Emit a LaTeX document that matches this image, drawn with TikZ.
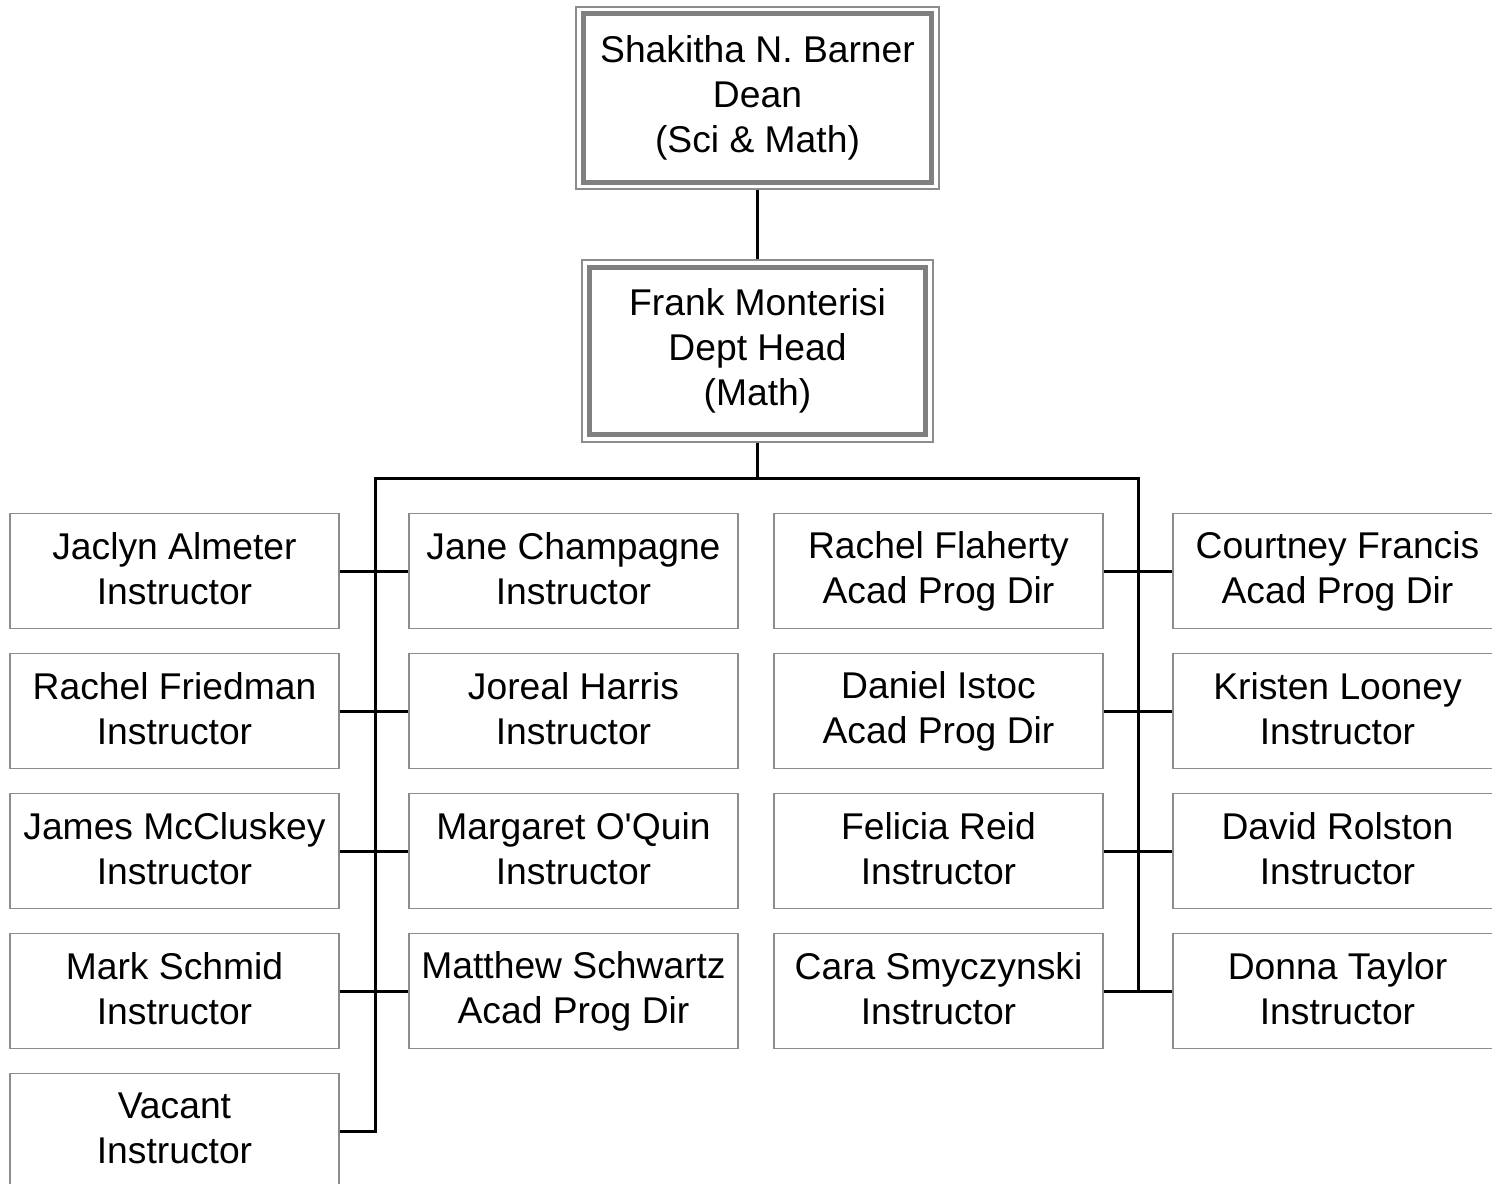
\documentclass[tikz,border=0pt]{standalone}
\usepackage{fontspec}
\setmainfont{Liberation Sans}
\definecolor{boxgray}{HTML}{8C8C8C}
\definecolor{headgray}{HTML}{808080}
\newcommand{\boxstrut}{\rule[-0.12\baselineskip]{0pt}{\baselineskip}}
\begin{document}
\begin{tikzpicture}[
	x=0.02cm, y=-0.02cm,
	every node/.style={font=\fontsize{21.2}{25.6}\selectfont, align=center, inner sep=0pt,
		execute at begin node=\boxstrut, execute at end node=\boxstrut},
	staffbox/.style={shape=rectangle, draw=boxgray, line width=0.025cm, minimum width=6.58cm, minimum height=2.3cm},
	headbox/.style={shape=rectangle, draw=boxgray, line width=0.03cm},
	headinner/.style={draw=headgray, line width=0.09cm},
	orgline/.style={draw=black, line width=0.06cm},
]
\useasboundingbox (0,0) rectangle (1492,1184);

% top of the chart
\node[headbox, minimum width=7.26cm, minimum height=3.64cm] (dean) at (757.5,98) {Shakitha N. Barner\\Dean\\(Sci \& Math)};
\draw[headinner] ([shift={(8,7)}]dean.north west) rectangle ([shift={(-8,-7)}]dean.south east);
\node[headbox, minimum width=7.02cm, minimum height=3.64cm] (head) at (757.5,351) {Frank Monterisi\\Dept Head\\(Math)};
\draw[headinner] ([shift={(8,8)}]head.north west) rectangle ([shift={(-8,-8)}]head.south east);

% first column
\node[staffbox] (almeter) at (174.5,571) {Jaclyn Almeter\\Instructor};
\node[staffbox] (friedman) at (174.5,711) {Rachel Friedman\\Instructor};
\node[staffbox] (mccluskey) at (174.5,851) {James McCluskey\\Instructor};
\node[staffbox] (schmid) at (174.5,991) {Mark Schmid\\Instructor};
\node[staffbox] (vacant) at (174.5,1131) {Vacant\\Instructor};

% second column
\node[staffbox] (champagne) at (573.5,571) {Jane Champagne\\Instructor};
\node[staffbox] (harris) at (573.5,711) {Joreal Harris\\Instructor};
\node[staffbox] (oquin) at (573.5,851) {Margaret O\textquotesingle Quin\\Instructor};
\node[staffbox] (schwartz) at (573.5,991) {Matthew Schwartz\\Acad Prog Dir};

% third column
\node[staffbox] (flaherty) at (938.5,571) {Rachel Flaherty\\Acad Prog Dir};
\node[staffbox] (istoc) at (938.5,711) {Daniel Istoc\\Acad Prog Dir};
\node[staffbox] (reid) at (938.5,851) {Felicia Reid\\Instructor};
\node[staffbox] (smyczynski) at (938.5,991) {Cara Smyczynski\\Instructor};

% fourth column
\node[staffbox] (francis) at (1337.5,571) {Courtney Francis\\Acad Prog Dir};
\node[staffbox] (looney) at (1337.5,711) {Kristen Looney\\Instructor};
\node[staffbox] (rolston) at (1337.5,851) {David Rolston\\Instructor};
\node[staffbox] (taylor) at (1337.5,991) {Donna Taylor\\Instructor};

% connectors
\coordinate (busL) at (375,478);
\coordinate (busR) at (1138,478);
\draw[orgline] (dean.south) -- (head.north);
\draw[orgline] (head.south) -- (head.south |- busL);
\draw[orgline] (vacant.east) -| (busL) -- (busR) |- (taylor.west);
\draw[orgline] (almeter.east) -- (champagne.west);
\draw[orgline] (friedman.east) -- (harris.west);
\draw[orgline] (mccluskey.east) -- (oquin.west);
\draw[orgline] (schmid.east) -- (schwartz.west);
\draw[orgline] (flaherty.east) -- (francis.west);
\draw[orgline] (istoc.east) -- (looney.west);
\draw[orgline] (reid.east) -- (rolston.west);
\draw[orgline] (smyczynski.east) -- (taylor.west);
\end{tikzpicture}
\end{document}
